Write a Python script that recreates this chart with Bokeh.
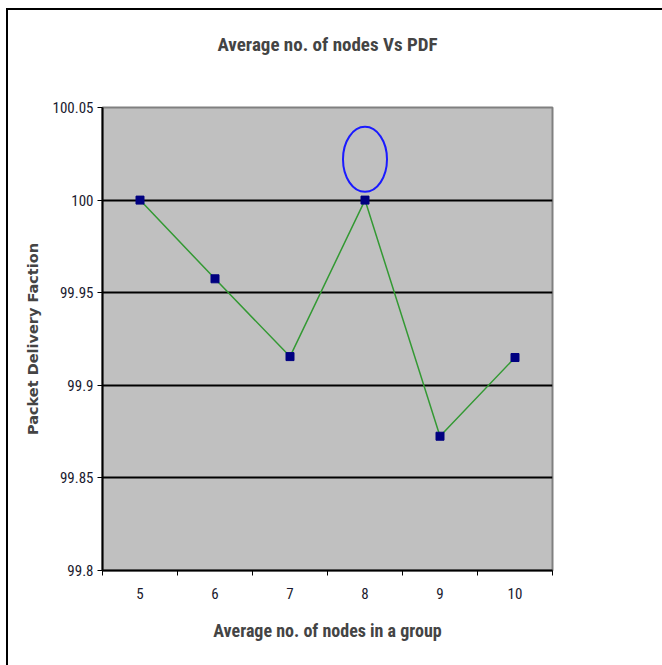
from bokeh.plotting import figure
from bokeh.models import FixedTicker, Range1d, InlineStyleSheet
from bokeh.embed import file_html
from bokeh.resources import INLINE

nodes = [5, 6, 7, 8, 9, 10]
pdf = [100.0, 99.9575, 99.9155, 100.0, 99.8725, 99.915]
y_ticks = [99.8, 99.85, 99.9, 99.95, 100.0, 100.05]
y_labels = ["99.8", "99.85", "99.9", "99.95", "100", "100.05"]
highlight_x = [8]
highlight_y = [100.022]

FONT = "Roboto Condensed, Liberation Sans Narrow, sans-serif"

p = figure(width=662, height=665, output_backend="svg", toolbar_location=None,
           x_range=Range1d(4.5, 10.5), y_range=Range1d(99.8, 100.05),
           min_border_left=102, min_border_right=110, min_border_top=107, min_border_bottom=95)
p.frame_width = 450
p.frame_height = 463

p.background_fill_color = "#c0c0c0"
p.border_fill_color = "white"
p.outline_line_color = "#808080"
p.outline_line_width = 2

p.title.text = "Average no. of nodes Vs PDF\n "
p.title.align = "center"
p.title.text_font = FONT
p.title.text_font_size = "19px"
p.title.text_font_style = "bold"
p.title.standoff = 58

# x axis
p.xaxis.ticker = FixedTicker(ticks=nodes, minor_ticks=[4.5 + i for i in range(7)])
p.xaxis.major_tick_line_color = None
p.xaxis.minor_tick_line_color = "black"
p.xaxis.minor_tick_out = 5
p.xaxis.minor_tick_in = 0
p.xaxis.axis_line_color = "black"
p.xaxis.axis_line_width = 2
p.xaxis.major_label_text_font = FONT
p.xaxis.major_label_text_font_size = "15px"
p.xaxis.major_label_text_color = "#1a1a2e"
p.xaxis.major_label_standoff = 11
p.xaxis.axis_label = "Average no. of nodes in a group"
p.xaxis.axis_label_text_font = FONT
p.xaxis.axis_label_text_font_size = "18px"
p.xaxis.axis_label_text_font_style = "bold"
p.xaxis.axis_label_standoff = 18

# y axis
p.yaxis.ticker = FixedTicker(ticks=y_ticks, minor_ticks=[])
p.yaxis.major_label_overrides = {t: l for t, l in zip(y_ticks, y_labels)}
p.yaxis.major_tick_out = 5
p.yaxis.major_tick_in = 0
p.yaxis.major_tick_line_color = "black"
p.yaxis.axis_line_color = "black"
p.yaxis.axis_line_width = 2
p.yaxis.major_label_text_font = FONT
p.yaxis.major_label_text_font_size = "15px"
p.yaxis.major_label_text_color = "#1a1a2e"
p.yaxis.major_label_standoff = 4
p.yaxis.axis_label = "Packet Delivery Faction"
p.yaxis.axis_label_text_font = "DejaVu Sans"
p.yaxis.axis_label_text_font_size = "14.5px"
p.yaxis.axis_label_text_font_style = "bold"
p.yaxis.axis_label_standoff = 9

p.xgrid.visible = False
p.ygrid.ticker = FixedTicker(ticks=y_ticks[1:5])
p.ygrid.grid_line_color = "black"
p.ygrid.grid_line_width = 2

p.line(nodes, pdf, line_color="#339933", line_width=1.5)
p.scatter(nodes, pdf, marker="square", size=8, fill_color="#000080", line_color="#000080")

p.ellipse(x=highlight_x, y=highlight_y, width=44, height=65, width_units="screen", height_units="screen",
          fill_color=None, line_color="#1a1aff", line_width=2)

# outer chart border (top and left edges visible, as in the original)
p.stylesheets = [InlineStyleSheet(css="""
:host { position: relative; }
:host::after {
  content: ""; position: absolute; left: 6px; top: 8px; right: -20px; bottom: -20px;
  border-top: 2px solid black; border-left: 2px solid black; pointer-events: none;
}
""")]

open("out.html", "w").write(file_html(p, INLINE))
